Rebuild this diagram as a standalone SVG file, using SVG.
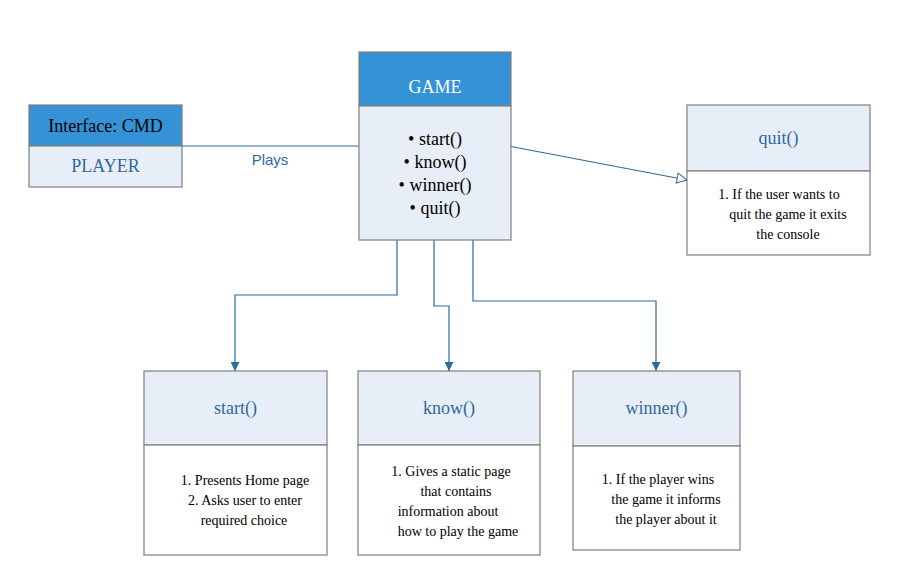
<svg xmlns="http://www.w3.org/2000/svg" width="902" height="586" viewBox="0 0 902 586">
<style>
.box{stroke:#7f7f7f;stroke-width:1.2}
.hdr{fill:#3592d6}
.lt{fill:#e8eef8}
.wh{fill:#ffffff}
text.t{font-family:'Liberation Serif','Times New Roman','DejaVu Serif',serif;text-anchor:middle}
.ttl{font-size:18px;fill:#2e6a9b}
.body{font-size:14px;fill:#000}
.big{font-size:18px;fill:#000}
.conn{fill:none;stroke:#2e6a9b;stroke-width:1.2}
</style>
<defs>
<marker id="fa" viewBox="0 0 10 10" refX="10" refY="5" markerWidth="9" markerHeight="9" markerUnits="userSpaceOnUse" orient="auto">
<path d="M0,0 L10,5 L0,10 z" fill="#2e6a9b"/>
</marker>
<marker id="oa" viewBox="0 0 12 12" refX="11" refY="6" markerWidth="12" markerHeight="12" markerUnits="userSpaceOnUse" orient="auto">
<path d="M1,1 L11,6 L1,11 z" fill="#fff" stroke="#2e6a9b" stroke-width="1"/>
</marker>
</defs>
<rect width="902" height="586" fill="#fff"/>
<g id="connectors">
<line class="conn" x1="182" y1="146" x2="359" y2="146"/>
<text x="270" y="165" font-family="'Liberation Sans', Arial, sans-serif" font-size="15" fill="#2e6a9b" text-anchor="middle">Plays</text>
<line class="conn" x1="511" y1="146.5" x2="687" y2="180" marker-end="url(#oa)"/>
<polyline class="conn" points="397,240 397,295 235,295 235,371" marker-end="url(#fa)"/>
<polyline class="conn" points="434,240 434,306 449,306 449,371" marker-end="url(#fa)"/>
<polyline class="conn" points="473,240 473,301 656,301 656,371" marker-end="url(#fa)"/>
</g>
<g font-family="'Liberation Serif', 'Times New Roman', serif">
<g id="player">
<rect class="box hdr" x="29" y="105" width="153" height="41"/>
<rect class="box lt" x="29" y="146" width="153" height="41"/>
<text class="t big" x="105.5" y="132">Interface: CMD</text>
<text class="t ttl" x="105.5" y="172">PLAYER</text>
</g>
<g id="game">
<rect class="box hdr" x="359" y="52" width="152" height="54"/>
<rect class="box lt" x="359" y="106" width="152" height="134"/>
<text class="t big" x="435" y="93" style="fill:#fff">GAME</text>
<text class="t big" x="435" y="145">• start()</text>
<text class="t big" x="435" y="168">• know()</text>
<text class="t big" x="435" y="191">• winner()</text>
<text class="t big" x="435" y="214">• quit()</text>
</g>
<g id="quit">
<rect class="box lt" x="687" y="105" width="183" height="66"/>
<rect class="box wh" x="687" y="171" width="183" height="84"/>
<text class="t ttl" x="778.5" y="144">quit()</text>
<text class="t body" x="779" y="199">1. If the user wants to</text>
<text class="t body" x="788" y="219">quit the game it exits</text>
<text class="t body" x="788" y="239">the console</text>
</g>
<g id="start">
<rect class="box lt" x="144" y="371" width="183" height="74"/>
<rect class="box wh" x="144" y="445" width="183" height="110"/>
<text class="t ttl" x="235.5" y="414">start()</text>
<text class="t body" x="245" y="485">1. Presents Home page</text>
<text class="t body" x="245" y="505">2. Asks user to enter</text>
<text class="t body" x="244" y="525">required choice</text>
</g>
<g id="know">
<rect class="box lt" x="358" y="371" width="182" height="74"/>
<rect class="box wh" x="358" y="445" width="182" height="110"/>
<text class="t ttl" x="449" y="414">know()</text>
<text class="t body" x="451" y="476">1. Gives a static page</text>
<text class="t body" x="456" y="496">that contains</text>
<text class="t body" x="448" y="516">information about</text>
<text class="t body" x="458" y="536">how to play the game</text>
</g>
<g id="winner">
<rect class="box lt" x="573" y="371" width="167" height="75"/>
<rect class="box wh" x="573" y="446" width="167" height="104"/>
<text class="t ttl" x="656.5" y="414">winner()</text>
<text class="t body" x="658" y="484">1. If the player wins</text>
<text class="t body" x="666" y="504">the game it informs</text>
<text class="t body" x="666" y="524">the player about it</text>
</g>
</g>
</svg>
